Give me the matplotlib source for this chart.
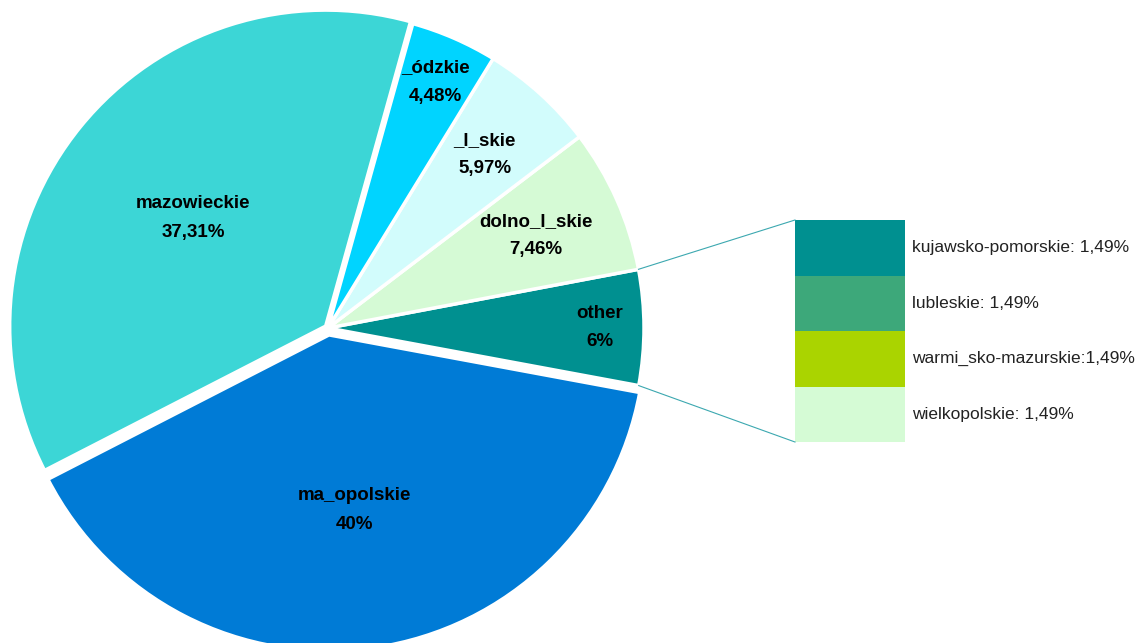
import matplotlib
matplotlib.use("Agg")
import matplotlib.pyplot as plt
import numpy as np

# main pie (counterclockwise from "other")
labels = ["other", "dolno_l_skie", "_l_skie", "_ódzkie", "mazowieckie", "ma_opolskie"]
values = [5.96, 7.46, 5.97, 4.48, 37.31, 40.0]
pct_text = ["6%", "7,46%", "5,97%", "4,48%", "37,31%", "40%"]
colors = ["#009090", "#D5FAD5", "#D2FCFC", "#00D4FF", "#3CD6D6", "#007BD6"]
explode = [0, 0, 0, 0, 3, 7]   # in pixels (data units)
label_dist = [0.86, 0.72, 0.74, 0.85, 0.54, 0.56]

# breakdown of "other"
other_names = ["kujawsko-pomorskie: 1,49%", "lubleskie: 1,49%",
               "warmi_sko-mazurskie:1,49%", "wielkopolskie: 1,49%"]
other_values = [1.49, 1.49, 1.49, 1.49]
other_colors = ["#009090", "#3DA87A", "#AAD400", "#D5FBD5"]

W, H = 1148, 643
fig = plt.figure(figsize=(W / 100, H / 100), dpi=100)
ax = fig.add_axes([0, 0, 1, 1])

cx, cy, r = 328, H - 328, 316
wedges, _ = ax.pie(values, colors=colors, startangle=-10.5, counterclock=True,
                   explode=explode, center=(cx, cy), radius=r,
                   wedgeprops=dict(edgecolor="white", linewidth=2.5), frame=True)
ax.set_xlim(0, W)
ax.set_ylim(0, H)
ax.axis("off")

for w, name, pct, d in zip(wedges, labels, pct_text, label_dist):
    ang = np.deg2rad((w.theta1 + w.theta2) / 2)
    x = w.center[0] + d * r * np.cos(ang)
    y = w.center[1] + d * r * np.sin(ang)
    ax.text(x, y, name + "\n" + pct, ha="center", va="center", fontsize=13.5,
            fontweight="bold", family="Liberation Sans", linespacing=1.9)

# stacked bar for "other"
bx, bw = 795, 110
btop, bbot = H - 220, H - 442
seg = (btop - bbot) / sum(other_values)
top = btop
for v, c, name in zip(other_values, other_colors, other_names):
    h = v * seg
    ax.bar(bx, -h, width=bw, bottom=top, color=c, align="edge")
    ax.text(bx + bw + 7, top - h / 2, name, ha="left", va="center",
            fontsize=12.5, family="Liberation Sans", color="#222222")
    top -= h

# connector lines
ow = wedges[0]
for th, yb in [(ow.theta2, btop), (ow.theta1, bbot)]:
    a = np.deg2rad(th)
    ax.plot([cx + r * np.cos(a), bx], [cy + r * np.sin(a), yb],
            color="#3CA8B0", linewidth=0.8)

fig.savefig("out.png", dpi=100)
